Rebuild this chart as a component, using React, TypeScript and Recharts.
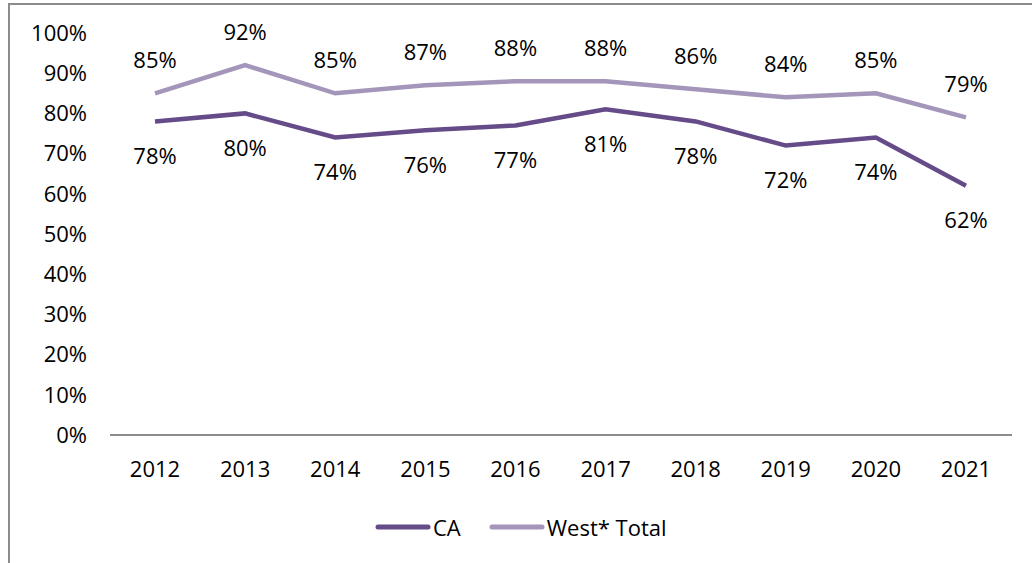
import React from "react"
import { LineChart, Line, XAxis, YAxis, LabelList } from "recharts"

const years = ["2012", "2013", "2014", "2015", "2016", "2017", "2018", "2019", "2020", "2021"]
const caValues = [78, 80, 74, 75.8, 77, 81, 78, 72, 74, 62]
const caLabels = ["78%", "80%", "74%", "76%", "77%", "81%", "78%", "72%", "74%", "62%"]
const westValues = [85, 92, 85, 87, 88, 88, 86, 84, 85, 79]
const westLabels = ["85%", "92%", "85%", "87%", "88%", "88%", "86%", "84%", "85%", "79%"]
const yTicks = [0, 10, 20, 30, 40, 50, 60, 70, 80, 90, 100]

const CA_COLOR = "#654c89"
const WEST_COLOR = "#a396ba"
const FONT = "'Open Sans', sans-serif"

const data = years.map((y, i) => ({
  year: y,
  CA: caValues[i],
  caLabel: caLabels[i],
  West: westValues[i],
  westLabel: westLabels[i],
}))

const LegendContent = () => (
  <div style={{ display: "flex", alignItems: "center", fontFamily: FONT, fontSize: 22, color: "#000" }}>
    {[
      { name: "CA", color: CA_COLOR },
      { name: "West* Total", color: WEST_COLOR },
    ].map((it) => (
      <div key={it.name} style={{ display: "flex", alignItems: "center", marginRight: 28 }}>
        <svg width={56} height={10} style={{ marginRight: 2 }}>
          <line x1={3} y1={5} x2={53} y2={5} stroke={it.color} strokeWidth={5} strokeLinecap="round" />
        </svg>
        <span>{it.name}</span>
      </div>
    ))}
  </div>
)

export default function App() {
  return (
    <div style={{ position: "absolute", left: 0, top: 0, width: 1032, height: 563, background: "#fff", overflow: "hidden" }}>
      <div style={{ position: "absolute", left: 8, top: 3, width: 1100, height: 700, borderLeft: "2px solid #8c8c8c", borderTop: "2px solid #8c8c8c" }} />
      <LineChart width={1032} height={563} data={data} margin={{ top: 33, right: 20, left: 0, bottom: 88 }}>
        <XAxis
          dataKey="year"
          height={40}
          padding={{ left: 45, right: 46 }}
          axisLine={{ stroke: "#8c8c8c", strokeWidth: 2 }}
          tickLine={false}
          tickSize={0}
          tickMargin={26}
          tick={{ fill: "#000", fontSize: 22, fontFamily: FONT }}
        />
        <YAxis
          domain={[0, 100]}
          ticks={yTicks}
          tickFormatter={(v) => `${v}%`}
          axisLine={false}
          tickLine={false}
          tickSize={0}
          tickMargin={23}
          width={110}
          interval={0}
          tick={{ fill: "#000", fontSize: 22, fontFamily: FONT }}
        />
        <Line dataKey="CA" stroke={CA_COLOR} strokeWidth={4.5} dot={false} isAnimationActive={false}>
          <LabelList dataKey="caLabel" position="bottom" offset={27} fill="#000" fontSize={22} fontFamily={FONT} />
        </Line>
        <Line dataKey="West" stroke={WEST_COLOR} strokeWidth={4.5} dot={false} isAnimationActive={false}>
          <LabelList dataKey="westLabel" position="top" offset={25} fill="#000" fontSize={22} fontFamily={FONT} />
        </Line>
      </LineChart>
      <div style={{ position: "absolute", left: 375, top: 512 }}>
        <LegendContent />
      </div>
    </div>
  )
}
